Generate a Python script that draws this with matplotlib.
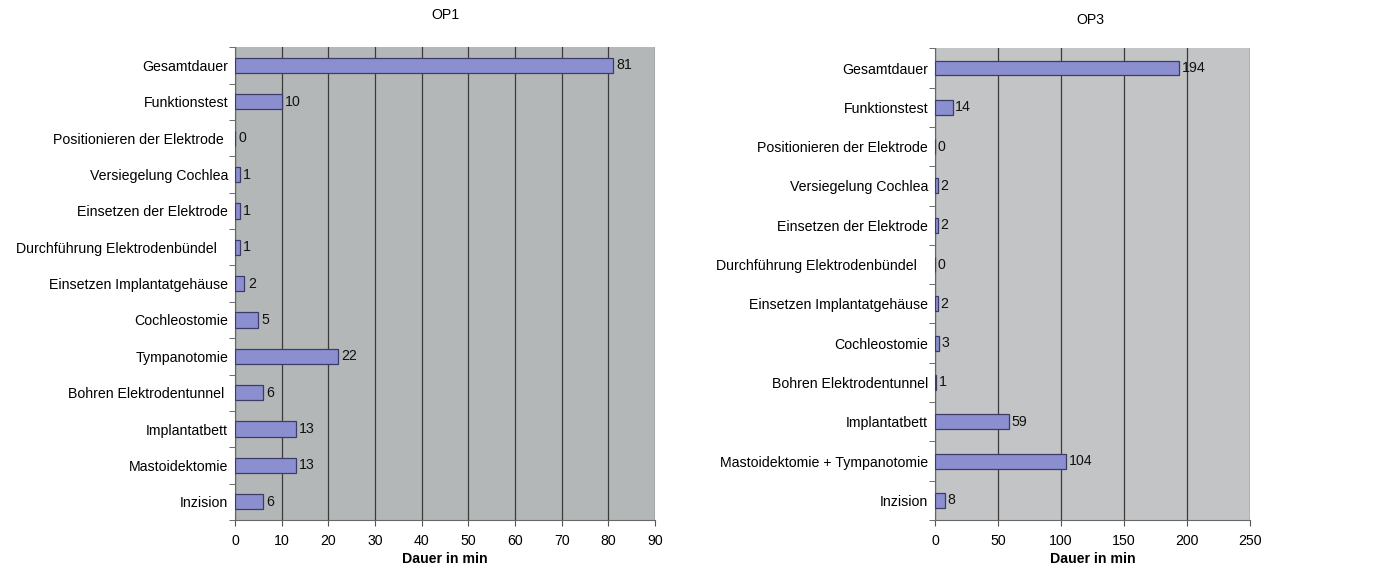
import numpy as np
import matplotlib.pyplot as plt

# OP1 steps (bottom to top) and durations in minutes
op1_steps = ["Inzision", "Mastoidektomie", "Implantatbett", "Bohren Elektrodentunnel ",
             "Tympanotomie", "Cochleostomie", "Einsetzen Implantatgehäuse",
             "Durchführung Elektrodenbündel   ", "Einsetzen der Elektrode",
             "Versiegelung Cochlea", "Positionieren der Elektrode ",
             "Funktionstest", "Gesamtdauer"]
op1_minutes = [6, 13, 13, 6, 22, 5, 2, 1, 1, 1, 0, 10, 81]

# OP3 steps (bottom to top) and durations in minutes
op3_steps = ["Inzision", "Mastoidektomie + Tympanotomie", "Implantatbett",
             "Bohren Elektrodentunnel", "Cochleostomie", "Einsetzen Implantatgehäuse",
             "Durchführung Elektrodenbündel   ", "Einsetzen der Elektrode",
             "Versiegelung Cochlea", "Positionieren der Elektrode",
             "Funktionstest", "Gesamtdauer"]
op3_minutes = [8, 104, 59, 1, 3, 2, 0, 2, 2, 0, 14, 194]

op1_ticks = np.arange(0, 91, 10)
op3_ticks = np.arange(0, 251, 50)

plt.rcParams['font.family'] = ['Liberation Sans', 'DejaVu Sans']
FS = 10.2

fig = plt.figure(figsize=(13.73, 5.71), dpi=100)


def draw(ax, steps, minutes, ticks, bg, height, title, title_xy):
    y = np.arange(len(steps))
    ax.set_facecolor(bg)
    ax.barh(y, minutes, height=height, color="#8b8fd0", edgecolor="#3c3c6a",
            linewidth=0.9, zorder=3)
    for yi, v in zip(y, minutes):
        ax.text(v + ticks[-1] * 0.008, yi, str(v), va="center", ha="left",
                fontsize=FS, color="#111111", zorder=4)
    ax.set_xlim(ticks[0], ticks[-1])
    ax.set_ylim(-0.5, len(steps) - 0.5)
    ax.set_xticks(ticks)
    ax.set_xticklabels([str(t) for t in ticks], fontsize=FS)
    ax.set_yticks(y)
    ax.set_yticklabels(steps, fontsize=FS)
    ax.set_yticks(np.arange(-0.5, len(steps), 1.0), minor=True)
    ax.tick_params(axis="y", which="major", length=0, pad=5)
    ax.tick_params(axis="y", which="minor", length=4, color="#555555")
    ax.tick_params(axis="x", length=4, color="#555555", pad=6)
    ax.grid(axis="x", color="#3a3a3a", linewidth=0.9, zorder=1)
    for side in ["top", "right"]:
        ax.spines[side].set_visible(False)
    ax.spines["left"].set_color("#666666")
    ax.spines["bottom"].set_color("#666666")
    ax.set_xlabel("Dauer in min", fontsize=FS, fontweight="bold", labelpad=3)
    fig.text(title_xy[0], title_xy[1], title, ha="center", va="center", fontsize=FS)


ax1 = fig.add_axes([0.1712, 0.0893, 0.3059, 0.828])
draw(ax1, op1_steps, op1_minutes, op1_ticks, "#b4b7b8", 0.42, "OP1", (445 / 1373, 1 - 15 / 571))

ax2 = fig.add_axes([0.681, 0.0893, 0.2294, 0.826])
draw(ax2, op3_steps, op3_minutes, op3_ticks, "#c2c4c5", 0.38, "OP3", (1090 / 1373, 1 - 20 / 571))

fig.savefig("out.png", dpi=100)
